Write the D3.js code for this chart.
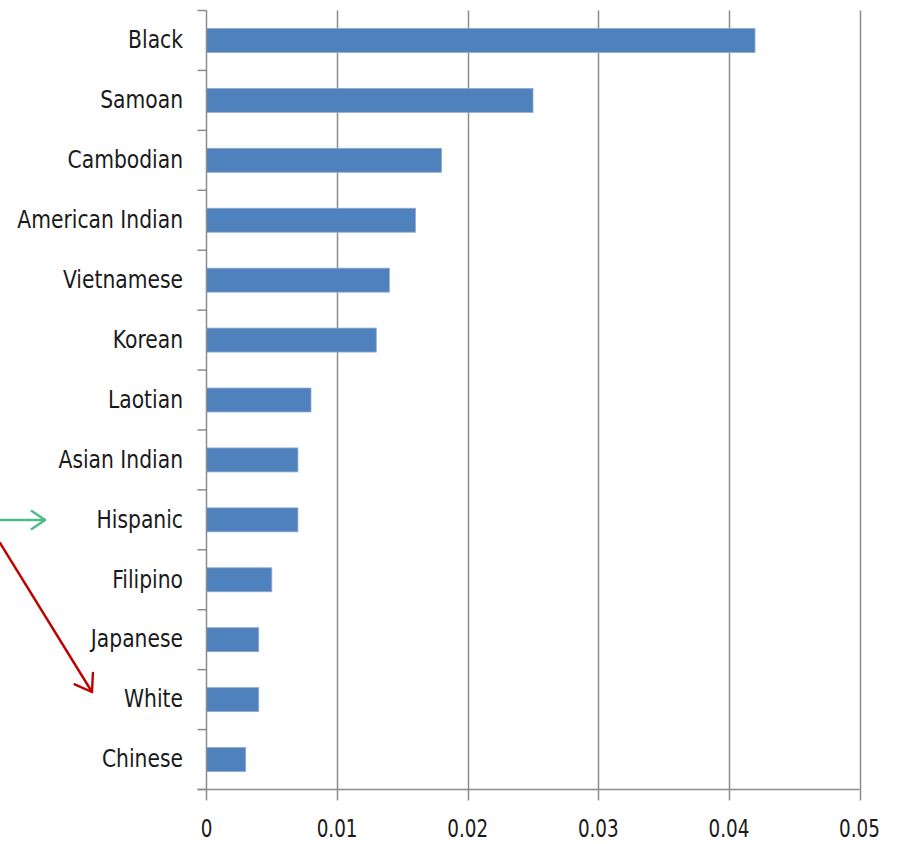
<!DOCTYPE html>
<html>
<head>
<meta charset="utf-8">
<script src="https://cdn.jsdelivr.net/npm/d3@7"></script>
<style>
  html, body { margin: 0; padding: 0; background: #fff; }
  svg text { font-family: "Liberation Sans Narrow", "DejaVu Sans Condensed", "Open Sans", sans-serif; fill: #1a1a1a; }
</style>
</head>
<body>
<svg id="chart" width="901" height="844"></svg>
<script>
// Groups, top to bottom, and their rates
const categories = ["Black", "Samoan", "Cambodian", "American Indian", "Vietnamese", "Korean",
  "Laotian", "Asian Indian", "Hispanic", "Filipino", "Japanese", "White", "Chinese"];
const values = [0.042, 0.025, 0.018, 0.016, 0.014, 0.013, 0.008, 0.007, 0.007, 0.005, 0.004, 0.004, 0.003];
const xTicks = [0, 0.01, 0.02, 0.03, 0.04, 0.05];
const xTickLabels = ["0", "0.01", "0.02", "0.03", "0.04", "0.05"];

const svg = d3.select("#chart");
const plotLeft = 206.5, plotRight = 859.5, plotTop = 10.5, plotBottom = 789.5;

const x = d3.scaleLinear().domain([0, 0.05]).range([plotLeft, plotRight]);
const y = d3.scaleBand().domain(categories).range([plotTop, plotBottom]).paddingInner(0.6).paddingOuter(0.3);

// vertical gridlines (extend below the axis as tick marks)
svg.append("g").selectAll("line").data(xTicks.slice(1)).join("line")
  .attr("x1", d => Math.round(x(d)) + 0.5).attr("x2", d => Math.round(x(d)) + 0.5)
  .attr("y1", plotTop).attr("y2", plotBottom + 11)
  .attr("stroke", "#8c8c8c").attr("stroke-width", 1.5);

// bars
svg.append("g").selectAll("rect").data(categories).join("rect")
  .attr("x", x(0))
  .attr("y", d => y(d))
  .attr("width", (d, i) => x(values[i]) - x(0))
  .attr("height", y.bandwidth())
  .attr("fill", "#4f81bd")
  .attr("stroke", "#8faad3").attr("stroke-width", 0.8);

// category axis
const catBounds = d3.range(categories.length + 1).map(i => plotTop + i * (plotBottom - plotTop) / categories.length);
const yAxis = svg.append("g");
yAxis.append("line").attr("x1", plotLeft).attr("x2", plotLeft).attr("y1", plotTop).attr("y2", plotBottom + 11)
  .attr("stroke", "#8c8c8c").attr("stroke-width", 1.5);
yAxis.selectAll("line.tick").data(catBounds).join("line").attr("class", "tick")
  .attr("x1", plotLeft - 9).attr("x2", plotLeft).attr("y1", d => d).attr("y2", d => d)
  .attr("stroke", "#8c8c8c").attr("stroke-width", 1.5);
yAxis.selectAll("text").data(categories).join("text")
  .attr("transform", d => `translate(183,${y(d) + y.bandwidth() / 2 - 1}) scale(0.94,1)`)
  .attr("text-anchor", "end").attr("dominant-baseline", "central")
  .attr("font-size", 24).text(d => d);

// value axis
const xAxis = svg.append("g");
xAxis.append("line").attr("x1", plotLeft - 9).attr("x2", plotRight).attr("y1", plotBottom).attr("y2", plotBottom)
  .attr("stroke", "#8c8c8c").attr("stroke-width", 1.5);
xAxis.selectAll("text").data(xTicks).join("text")
  .attr("transform", d => `translate(${x(d)},837) scale(0.85,1)`)
  .attr("text-anchor", "middle")
  .attr("font-size", 24).text((d, i) => xTickLabels[i]);

// annotation arrows
function arrow(x1, y1, x2, y2, color, L) {
  const a = Math.atan2(y2 - y1, x2 - x1), w = 0.6;
  const p1 = [x2 - L * Math.cos(a - w), y2 - L * Math.sin(a - w)];
  const p2 = [x2 - L * Math.cos(a + w), y2 - L * Math.sin(a + w)];
  const g = svg.append("g").attr("stroke", color).attr("stroke-width", 2.4).attr("fill", "none")
    .attr("stroke-linecap", "round").attr("stroke-linejoin", "round");
  g.append("line").attr("x1", x1).attr("y1", y1).attr("x2", x2).attr("y2", y2);
  g.append("path").attr("d", d3.line()([p1, [x2, y2], p2]));
}
arrow(-2, 520, 45, 520, "#4cbb86", 16);
arrow(0, 543, 92, 692, "#c00000", 19);
</script>
</body>
</html>
